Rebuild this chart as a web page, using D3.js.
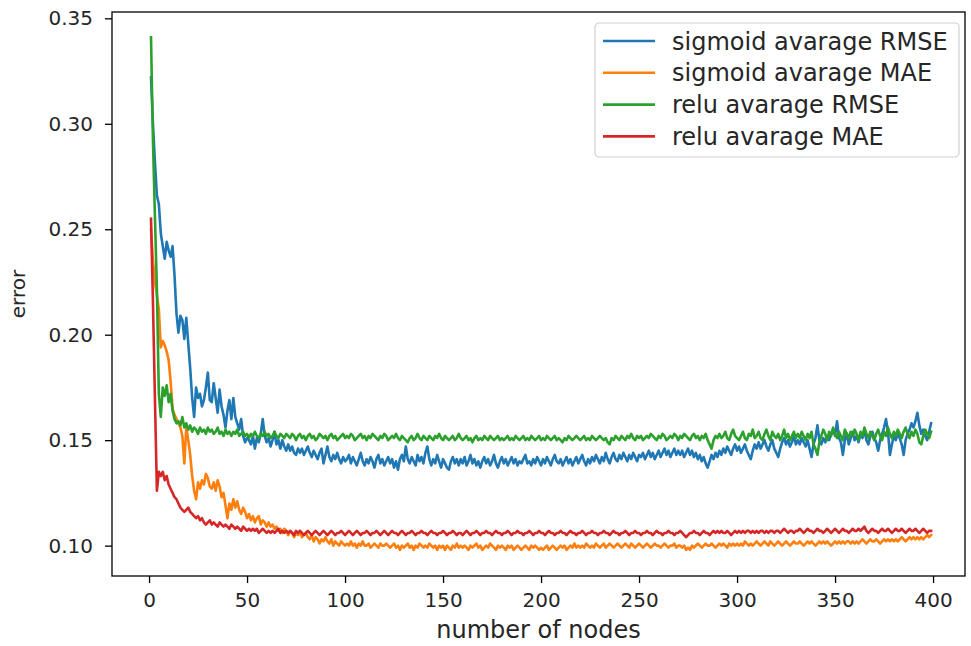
<!DOCTYPE html>
<html>
<head>
<meta charset="utf-8">
<script src="https://cdn.jsdelivr.net/npm/d3@7"></script>
<style>
  body { margin: 0; background: #fff; }
  text { font-family: "DejaVu Sans", sans-serif; fill: #262626; }
</style>
</head>
<body>
<svg width="971" height="646"></svg>
<script>
'use strict';

//..........Data................
const nodes = d3.range(1, 400);

const sigmoidRmse = [
 .322,.300,.282,.266,.262,.248,.242,.236,.244,.240,
 .237,.242,.228,.210,.201,.209,.207,.198,.208,.196,
 .184,.170,.161,.175,.170,.172,.166,.169,.175,.182,
 .169,.168,.177,.170,.163,.174,.166,.162,.156,.164,
 .169,.160,.170,.161,.158,.155,.160,.152,.149,.151,
 .150,.148,.152,.146,.151,.149,.153,.160,.152,.149,
 .151,.147,.150,.154,.148,.150,.146,.150,.147,.145,
 .148,.145,.147,.144,.143,.146,.144,.146,.143,.145,
 .147,.144,.142,.145,.143,.141,.144,.146,.139,.143,
 .147,.142,.140,.143,.141,.144,.141,.139,.142,.140,
 .141,.143,.139,.142,.140,.138,.141,.144,.140,.138,
 .141,.139,.142,.140,.137,.141,.143,.139,.141,.138,
 .140,.142,.139,.141,.137,.140,.136,.141,.143,.140,
 .147,.141,.139,.142,.140,.138,.143,.140,.142,.139,
 .144,.147,.141,.138,.141,.139,.143,.140,.137,.141,
 .139,.137,.136,.140,.142,.139,.141,.138,.141,.139,
 .142,.138,.140,.143,.139,.141,.138,.140,.137,.140,
 .142,.139,.141,.138,.140,.143,.139,.137,.140,.142,
 .139,.141,.138,.140,.142,.139,.141,.138,.140,.139,
 .141,.143,.139,.140,.138,.141,.139,.142,.140,.138,
 .141,.139,.142,.140,.138,.141,.143,.140,.139,.141,
 .138,.140,.142,.139,.141,.138,.140,.142,.139,.141,
 .143,.140,.138,.141,.139,.142,.140,.143,.141,.139,
 .142,.140,.144,.141,.139,.142,.144,.141,.140,.143,
 .141,.144,.142,.140,.143,.141,.144,.142,.140,.143,
 .142,.144,.141,.143,.145,.142,.144,.141,.143,.145,
 .142,.144,.146,.143,.145,.142,.144,.146,.143,.145,
 .143,.145,.142,.144,.146,.143,.145,.142,.144,.141,
 .143,.140,.142,.139,.137,.140,.143,.141,.144,.142,
 .145,.143,.146,.144,.147,.145,.143,.146,.148,.145,
 .147,.144,.146,.148,.145,.143,.141,.145,.148,.146,
 .149,.146,.148,.150,.147,.145,.148,.150,.146,.144,
 .142,.146,.149,.151,.148,.150,.147,.149,.152,.148,
 .150,.148,.151,.149,.147,.150,.146,.142,.148,.151,
 .157,.150,.148,.151,.149,.152,.150,.153,.155,.152,
 .159,.151,.149,.143,.150,.153,.148,.151,.154,.150,
 .152,.149,.153,.151,.155,.150,.148,.152,.154,.151,
 .149,.145,.150,.153,.156,.160,.154,.143,.148,.152,
 .150,.153,.151,.148,.143,.150,.153,.155,.158,.156,
 .159,.163,.157,.153,.155,.152,.150,.154,.158
];

const sigmoidMae = [
 .250,.235,.225,.219,.212,.194,.197,.195,.192,.188,
 .178,.165,.162,.160,.158,.156,.152,.139,.156,.150,
 .143,.133,.126,.122,.130,.127,.131,.129,.134,.132,
 .128,.127,.130,.126,.131,.128,.123,.125,.119,.113,
 .120,.117,.122,.118,.121,.117,.115,.118,.116,.113,
 .115,.112,.114,.111,.113,.114,.110,.112,.111,.109,
 .111,.109,.110,.108,.109,.107,.108,.106,.108,.107,
 .105,.107,.106,.104,.106,.105,.107,.104,.105,.106,
 .104,.103,.105,.102,.104,.103,.101,.103,.102,.104,
 .102,.101,.103,.100,.102,.101,.100,.102,.101,.100,
 .101,.100,.102,.100,.101,.099,.101,.100,.102,.100,
 .100,.101,.099,.100,.101,.100,.099,.101,.100,.100,
 .101,.100,.099,.100,.101,.099,.100,.098,.100,.099,
 .100,.101,.099,.100,.098,.100,.099,.101,.100,.099,
 .100,.099,.101,.100,.099,.100,.098,.100,.099,.100,
 .098,.100,.099,.098,.100,.099,.101,.099,.100,.099,
 .100,.099,.098,.100,.099,.100,.101,.099,.100,.098,
 .099,.100,.099,.101,.100,.099,.098,.100,.099,.100,
 .099,.098,.100,.099,.100,.098,.099,.100,.099,.098,
 .099,.100,.099,.098,.100,.099,.100,.099,.098,.099,
 .098,.099,.100,.098,.099,.100,.099,.098,.099,.100,
 .099,.100,.098,.099,.100,.099,.101,.099,.100,.099,
 .100,.099,.101,.100,.099,.100,.099,.101,.100,.099,
 .100,.101,.099,.100,.101,.100,.099,.100,.101,.100,
 .099,.100,.101,.100,.099,.101,.100,.099,.100,.101,
 .100,.099,.100,.101,.100,.099,.100,.101,.100,.100,
 .099,.100,.101,.100,.099,.100,.100,.101,.099,.100,
 .100,.099,.100,.098,.099,.098,.100,.099,.100,.101,
 .100,.099,.100,.101,.100,.100,.101,.100,.099,.100,
 .101,.100,.101,.100,.099,.101,.100,.101,.100,.101,
 .100,.101,.100,.102,.101,.100,.101,.100,.101,.102,
 .101,.100,.101,.102,.101,.100,.102,.101,.100,.101,
 .102,.101,.100,.101,.102,.101,.100,.101,.102,.101,
 .101,.102,.101,.100,.101,.102,.101,.102,.101,.100,
 .101,.102,.101,.102,.101,.102,.101,.100,.101,.102,
 .101,.102,.101,.102,.101,.102,.102,.101,.102,.101,
 .102,.101,.102,.103,.102,.101,.102,.103,.102,.102,
 .103,.102,.101,.102,.103,.102,.103,.102,.103,.102,
 .103,.102,.103,.104,.103,.102,.103,.104,.103,.104,
 .103,.104,.103,.104,.103,.104,.105,.104,.105
];

const reluRmse = [
 .341,.292,.256,.222,.172,.161,.175,.171,.176,.168,
 .172,.164,.160,.158,.159,.157,.161,.156,.158,.155,
 .157,.154,.156,.155,.153,.156,.154,.155,.153,.156,
 .154,.155,.153,.154,.156,.153,.154,.152,.155,.153,
 .154,.152,.154,.153,.155,.152,.153,.154,.152,.153,
 .151,.153,.152,.154,.152,.151,.153,.152,.154,.152,
 .153,.151,.152,.154,.152,.151,.153,.152,.151,.153,
 .152,.151,.153,.152,.150,.152,.153,.151,.152,.150,
 .152,.153,.151,.152,.150,.151,.153,.152,.151,.152,
 .150,.152,.153,.151,.152,.150,.151,.152,.153,.151,
 .152,.151,.153,.152,.150,.151,.152,.153,.151,.152,
 .150,.152,.151,.153,.152,.151,.150,.152,.151,.153,
 .152,.150,.151,.152,.151,.153,.151,.150,.152,.151,
 .150,.149,.151,.152,.150,.151,.153,.151,.150,.152,
 .151,.150,.152,.151,.150,.152,.151,.153,.151,.150,
 .152,.151,.150,.151,.152,.150,.151,.153,.151,.150,
 .151,.152,.150,.151,.149,.151,.152,.150,.151,.150,
 .152,.151,.150,.152,.151,.150,.151,.152,.150,.151,
 .150,.151,.152,.150,.151,.150,.152,.151,.150,.151,
 .152,.150,.151,.150,.152,.151,.150,.151,.152,.150,
 .151,.150,.152,.151,.150,.151,.152,.150,.151,.150,
 .149,.151,.150,.152,.151,.150,.151,.152,.151,.150,
 .151,.152,.150,.151,.150,.152,.151,.150,.151,.152,
 .151,.150,.151,.149,.148,.151,.150,.152,.151,.150,
 .152,.151,.150,.152,.151,.153,.151,.150,.152,.151,
 .152,.150,.151,.152,.151,.153,.152,.151,.150,.152,
 .151,.153,.152,.150,.151,.152,.151,.153,.152,.150,
 .152,.151,.153,.152,.151,.150,.152,.153,.151,.152,
 .150,.152,.151,.153,.150,.148,.146,.150,.152,.151,
 .153,.151,.152,.154,.151,.150,.153,.155,.152,.151,
 .150,.152,.154,.151,.150,.153,.152,.155,.151,.152,
 .154,.151,.150,.153,.155,.152,.150,.154,.152,.151,
 .153,.150,.152,.155,.151,.153,.150,.152,.154,.151,
 .153,.151,.154,.152,.150,.153,.151,.154,.148,.146,
 .143,.149,.152,.155,.153,.150,.154,.152,.156,.153,
 .151,.154,.152,.150,.155,.153,.151,.154,.152,.155,
 .153,.150,.154,.152,.156,.153,.151,.154,.152,.150,
 .153,.155,.152,.150,.154,.152,.156,.153,.151,.154,
 .152,.155,.153,.151,.154,.156,.153,.151,.154,.152,
 .155,.153,.149,.148,.152,.155,.153,.151,.154
];

const reluMae = [
 .255,.215,.170,.126,.135,.133,.135,.131,.133,.129,
 .127,.125,.123,.122,.120,.118,.117,.116,.117,.118,
 .116,.115,.114,.113,.114,.112,.113,.111,.110,.111,
 .112,.110,.111,.110,.109,.111,.110,.109,.110,.109,
 .108,.110,.109,.108,.109,.108,.107,.109,.108,.107,
 .108,.107,.108,.107,.108,.106,.107,.108,.107,.106,
 .107,.106,.107,.106,.107,.108,.106,.107,.106,.107,
 .106,.107,.106,.105,.107,.106,.107,.106,.105,.106,
 .107,.106,.105,.106,.107,.106,.105,.106,.107,.106,
 .105,.106,.107,.106,.105,.106,.106,.107,.106,.105,
 .106,.107,.106,.105,.106,.107,.106,.105,.106,.106,
 .107,.106,.105,.106,.106,.107,.106,.105,.106,.107,
 .106,.105,.106,.107,.106,.106,.105,.106,.107,.106,
 .105,.106,.106,.107,.106,.105,.106,.106,.107,.106,
 .106,.105,.106,.107,.106,.106,.105,.106,.106,.107,
 .106,.105,.106,.106,.107,.106,.105,.106,.106,.105,
 .106,.107,.106,.105,.106,.106,.107,.106,.105,.106,
 .106,.107,.106,.106,.105,.106,.107,.106,.106,.105,
 .106,.106,.107,.106,.105,.106,.106,.107,.106,.106,
 .105,.106,.106,.107,.106,.105,.106,.106,.107,.106,
 .106,.105,.106,.107,.106,.106,.105,.106,.106,.107,
 .106,.106,.105,.106,.107,.106,.106,.105,.106,.106,
 .107,.106,.105,.106,.106,.107,.106,.106,.105,.106,
 .106,.107,.106,.106,.105,.106,.107,.106,.106,.105,
 .106,.106,.107,.106,.105,.106,.106,.107,.106,.106,
 .105,.106,.106,.107,.106,.106,.105,.106,.107,.106,
 .106,.105,.106,.106,.107,.106,.106,.105,.106,.106,
 .107,.106,.105,.104,.105,.106,.106,.107,.106,.106,
 .105,.106,.107,.106,.106,.105,.106,.107,.106,.107,
 .106,.107,.106,.106,.107,.106,.105,.106,.107,.106,
 .107,.106,.107,.106,.107,.107,.106,.107,.106,.107,
 .106,.107,.107,.106,.107,.106,.107,.107,.106,.107,
 .107,.106,.107,.108,.107,.106,.107,.107,.106,.107,
 .107,.108,.107,.106,.107,.108,.107,.107,.106,.107,
 .108,.107,.107,.106,.107,.108,.107,.106,.107,.108,
 .107,.106,.107,.108,.107,.107,.106,.107,.108,.107,
 .107,.108,.107,.108,.109,.107,.106,.107,.108,.107,
 .107,.106,.107,.108,.107,.107,.108,.107,.106,.107,
 .108,.107,.107,.108,.107,.106,.107,.108,.107,.107,
 .108,.107,.106,.107,.108,.107,.106,.107,.107
];

const seriesNames = ['sigmoid avarage RMSE', 'sigmoid avarage MAE', 'relu avarage RMSE', 'relu avarage MAE'];
const seriesValues = [sigmoidRmse, sigmoidMae, reluRmse, reluMae];
const colors = ['#1f77b4', '#ff7f0e', '#2ca02c', '#d62728'];

const xTicks = [0, 50, 100, 150, 200, 250, 300, 350, 400];
const yTicks = [0.10, 0.15, 0.20, 0.25, 0.30, 0.35];

//..........Layout................
const svg = d3.select('svg');
const plot = { left: 112, right: 965, top: 12, bottom: 576 };

const x = d3.scaleLinear()
    .domain([-18.9, 416.3])
    .range([plot.left, plot.right]);
const y = d3.scaleLinear()
    .domain([0.0856, 0.353])
    .range([plot.bottom, plot.top]);

//..........Lines................
const line = d3.line()
    .x((d, i) => x(nodes[i]))
    .y(d => y(d));

const lineGroup = svg.append('g');
seriesValues.forEach((vals, k) => {
  lineGroup.append('path')
      .datum(vals)
      .attr('d', line)
      .attr('fill', 'none')
      .attr('stroke', colors[k])
      .attr('stroke-width', 2.6)
      .attr('stroke-linejoin', 'round')
      .attr('stroke-linecap', 'square');
});

//..........Axes................
const xAxis = svg.append('g')
    .attr('transform', `translate(0 ${plot.bottom})`)
    .call(d3.axisBottom(x).tickValues(xTicks).tickSize(7).tickPadding(10).tickFormat(d3.format('d')));
const yAxis = svg.append('g')
    .attr('transform', `translate(${plot.left} 0)`)
    .call(d3.axisLeft(y).tickValues(yTicks).tickSize(7).tickPadding(12).tickFormat(d3.format('.2f')));

[xAxis, yAxis].forEach(g => {
  g.select('.domain').remove();
  g.selectAll('.tick line').attr('stroke', '#000').attr('stroke-width', 1.3);
  g.selectAll('.tick text')
      .attr('fill', '#262626')
      .style('font-family', '"DejaVu Sans", sans-serif')
      .style('font-size', '20px');
});

// frame
svg.append('rect')
    .attr('x', plot.left)
    .attr('y', plot.top)
    .attr('width', plot.right - plot.left)
    .attr('height', plot.bottom - plot.top)
    .attr('fill', 'none')
    .attr('stroke', '#000')
    .attr('stroke-width', 1.3);

//..........Labels................
svg.append('text')
    .attr('x', (plot.left + plot.right) / 2)
    .attr('y', 638)
    .attr('text-anchor', 'middle')
    .style('font-size', '24px')
    .text('number of nodes');

svg.append('text')
    .attr('transform', `translate(25 ${(plot.top + plot.bottom) / 2}) rotate(-90)`)
    .attr('text-anchor', 'middle')
    .style('font-size', '20px')
    .text('error');

//..........Legend................
const legend = svg.append('g').attr('transform', 'translate(595 23)');
legend.append('rect')
    .attr('width', 364)
    .attr('height', 134)
    .attr('rx', 4)
    .attr('fill', '#fff')
    .attr('fill-opacity', 0.8)
    .attr('stroke', '#d0d0d0')
    .attr('stroke-width', 1.2);

const rows = legend.selectAll('g.row')
    .data(seriesNames)
    .join('g')
    .attr('class', 'row')
    .attr('transform', (d, i) => `translate(0 ${18 + i * 31.8})`);
rows.append('line')
    .attr('x1', 8).attr('x2', 60)
    .attr('stroke', (d, i) => colors[i])
    .attr('stroke-width', 2.6);
rows.append('text')
    .attr('x', 77)
    .attr('dy', '0.36em')
    .style('font-size', '24px')
    .text(d => d);
</script>
</body>
</html>
